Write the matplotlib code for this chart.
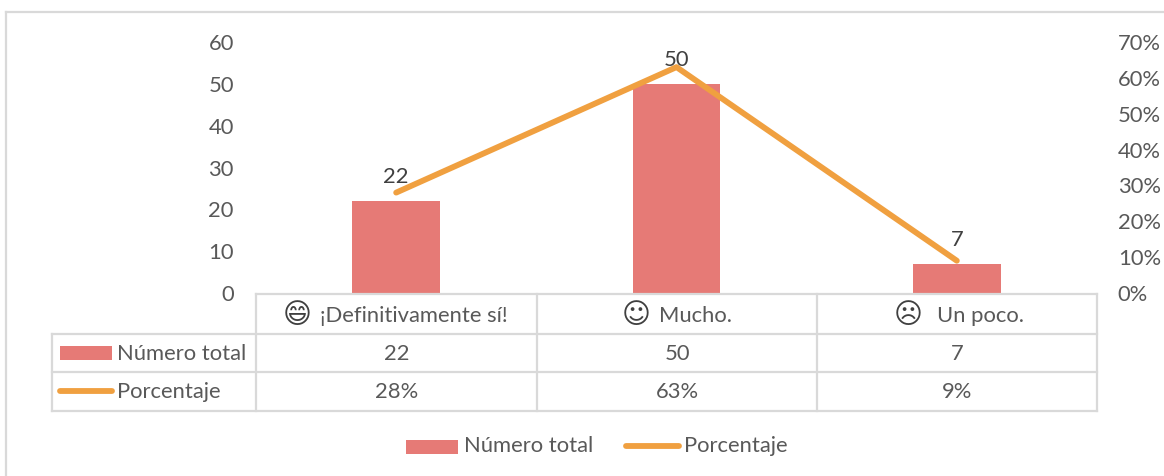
import matplotlib
matplotlib.use("Agg")
import matplotlib.pyplot as plt
from matplotlib.patches import Rectangle
from matplotlib.lines import Line2D

categories = ["¡Definitivamente sí!", "Mucho.", "Un poco."]
category_icons = ["\U0001F604", "\u263A", "\u2639"]
totals = [22, 50, 7]
percents = [0.28, 0.63, 0.09]
total_labels = ["22", "50", "7"]
percent_labels = ["28%", "63%", "9%"]
left_ticks = [0, 10, 20, 30, 40, 50, 60]
right_ticks = [0, 0.1, 0.2, 0.3, 0.4, 0.5, 0.6, 0.7]
right_labels = ["0%", "10%", "20%", "30%", "40%", "50%", "60%", "70%"]
series_names = ["Número total", "Porcentaje"]

W, H = 1164, 476
BAR = "#E67A76"
LINE = "#F0A040"
TEXT = "#595959"
DARK = "#404040"
GRID = "#D9D9D9"
FONT = ["Lato", "DejaVu Sans"]
FS = 15.8
LW = 4.2
plt.rcParams["font.family"] = FONT

fig = plt.figure(figsize=(W / 100, H / 100), dpi=100, facecolor="white")
ax = fig.add_axes([256 / W, 1 - 293 / H, (1097 - 256) / W, (293 - 42) / H])
ax.patch.set_alpha(0)

xs = list(range(len(categories)))
ax.bar(xs, totals, width=0.313, color=BAR, zorder=2)
ax.set_xlim(-0.5, 2.5)
ax.set_ylim(0, 60)
ax.set_yticks(left_ticks)
ax.set_xticks([])
ax.tick_params(axis="y", length=0, pad=16, labelsize=FS, labelcolor=TEXT)
for s in ax.spines.values():
    s.set_visible(False)

ax2 = ax.twinx()
ax2.patch.set_alpha(0)
ax2.plot(xs, percents, color=LINE, lw=LW, solid_capstyle="round", solid_joinstyle="round", zorder=3)
ax2.set_ylim(0, 0.7)
ax2.set_yticks(right_ticks)
ax2.set_yticklabels(right_labels)
ax2.tick_params(axis="y", length=0, pad=15, labelsize=FS, labelcolor=TEXT)
for s in ax2.spines.values():
    s.set_visible(False)

for x, v, lab in zip(xs, totals, total_labels):
    ax2.annotate(lab, (x, v / 60 * 0.7), xytext=(0, 18), textcoords="offset pixels", ha="center",
                 va="baseline", fontsize=FS, color=DARK, zorder=5)

# overlay in pixel coordinates for frame, table and legend
ov = fig.add_axes([0, 0, 1, 1], zorder=10)
ov.set_xlim(0, W)
ov.set_ylim(H, 0)
ov.axis("off")

def hv(x0, y0, x1, y1, color=GRID, lw=1.6):
    ov.add_line(Line2D([x0, x1], [y0, y1], color=color, lw=lw, solid_capstyle="projecting"))

# chart frame
hv(6, 12, 1164, 12)
hv(6, 12, 6, 476)

# table grid
col_x = [256, 537, 817, 1097]
row_y = [294, 334, 372, 411]
hv(col_x[0], row_y[0], col_x[-1], row_y[0])
for y in row_y[1:]:
    hv(52, y, col_x[-1], y)
hv(52, row_y[1], 52, row_y[-1])
for x in col_x:
    hv(x, row_y[0], x, row_y[-1])

def centers(vals):
    return [(a + b) / 2 for a, b in zip(vals[:-1], vals[1:])]

cx = centers(col_x)
cy = centers(row_y)
icon_x = [297, 636, 908]
label_x = [320, 659, 937]
for ix, lx, ic, c in zip(icon_x, label_x, category_icons, categories):
    ov.text(ix, 315, ic, ha="center", va="center", fontsize=20, color=DARK, family="DejaVu Sans")
    ov.text(lx, cy[0] + 2, c, ha="left", va="center", fontsize=FS, color=TEXT)
for x, t, p in zip(cx, total_labels, percent_labels):
    ov.text(x, cy[1] + 0.5, t, ha="center", va="center", fontsize=FS, color=TEXT)
    ov.text(x, cy[2] + 0.5, p, ha="center", va="center", fontsize=FS, color=TEXT)

# table keys
ov.add_patch(Rectangle((60, 346), 52, 14, color=BAR, lw=0))
ov.add_line(Line2D([60, 112], [391, 391], color=LINE, lw=LW, solid_capstyle="round"))
ov.text(117, cy[1] + 0.5, series_names[0], ha="left", va="center", fontsize=FS, color=TEXT)
ov.text(117, cy[2] + 0.5, series_names[1], ha="left", va="center", fontsize=FS, color=TEXT)

# legend
ov.add_patch(Rectangle((406, 440), 52, 14, color=BAR, lw=0))
ov.add_line(Line2D([626, 679], [446, 446], color=LINE, lw=LW, solid_capstyle="round"))
ov.text(464, 446.5, series_names[0], ha="left", va="center", fontsize=FS, color=TEXT)
ov.text(684, 446.5, series_names[1], ha="left", va="center", fontsize=FS, color=TEXT)

fig.savefig("out.png", dpi=100)
